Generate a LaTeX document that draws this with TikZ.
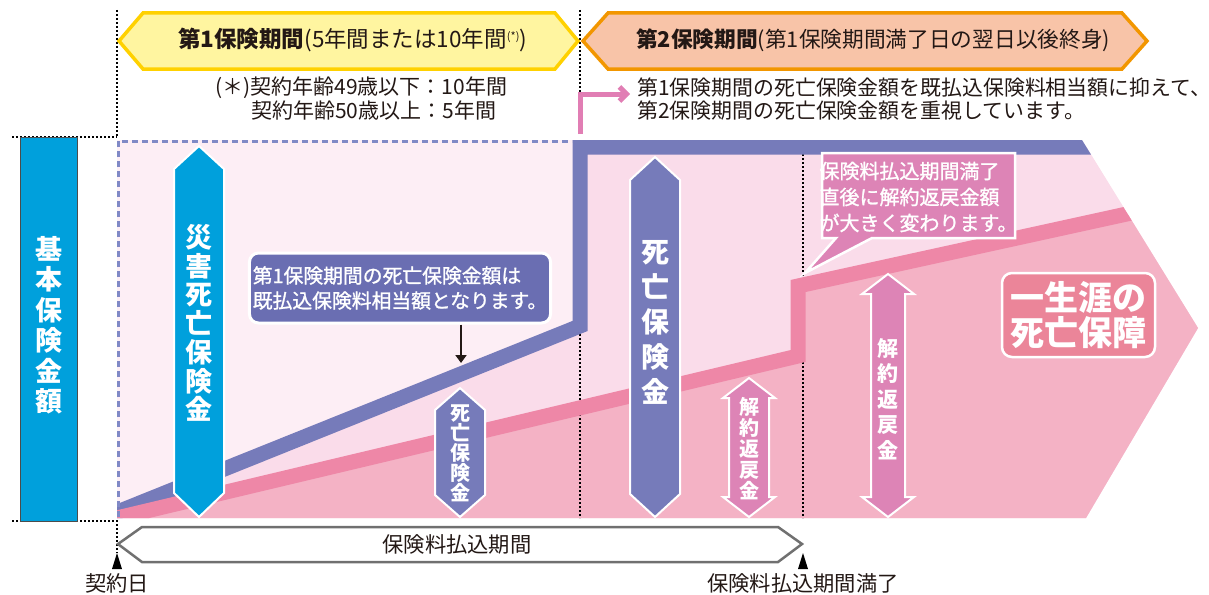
\documentclass[tikz,border=0pt]{standalone}
\usepackage{fontspec}
\setmainfont{Noto Sans CJK JP}
\newfontfamily\jpmed{Noto Sans CJK JP}[FakeBold=1.2]
\usetikzlibrary{arrows.meta,calc}
\definecolor{cyanb}{HTML}{00A0DC}
\definecolor{blueline}{HTML}{767BBA}
\definecolor{calloutblue}{HTML}{6A6EB2}
\definecolor{pale}{HTML}{FDEEF5}
\definecolor{lpink}{HTML}{FADCEA}
\definecolor{mpink}{HTML}{F4B2C5}
\definecolor{pinkline}{HTML}{EE87A7}
\definecolor{arrowpink}{HTML}{DD84B6}
\definecolor{lifepink}{HTML}{EB8599}
\definecolor{yelfill}{HTML}{FFF5A0}
\definecolor{yeldraw}{HTML}{FFD100}
\definecolor{orfill}{HTML}{F8C4A8}
\definecolor{ordraw}{HTML}{F29600}
\definecolor{connpink}{HTML}{E17EB4}
\definecolor{dashb}{HTML}{8089C6}
\definecolor{graybox}{HTML}{707070}
\definecolor{txt}{HTML}{231815}
\newcommand\fsHa{\fontsize{22.5}{24}\selectfont}
\newcommand\fsHb{\fontsize{21.7}{24}\selectfont}
\newcommand\fsN{\fontsize{21}{24}\selectfont}
\newcommand\fsR{\fontsize{20.9}{24}\selectfont}
\newcommand\fsB{\fontsize{21.3}{24}\selectfont}
\begin{document}
\begin{tikzpicture}[x=1pt,y=-1pt,
  guide/.style={black, line width=1.6pt, dash pattern=on 1.6pt off 2.4pt},
  blueband/.style={draw=blueline, line width=15pt, line join=miter},
  pinkband/.style={draw=pinkline, line width=15pt, line join=miter},
  dashborder/.style={draw=dashb, line width=3pt, dash pattern=on 6pt off 4pt},
  hexarrow/.style={draw=white, line width=2pt, line join=miter},
  vlab/.style={align=center, text=white, inner sep=0pt},
  plain/.style={inner sep=0pt, text=txt},
  pinkconn/.style={draw=connpink, line width=5pt, -{Straight Barb[length=7pt,width=14pt]}},
]
\useasboundingbox (0,0) rectangle (1209,594);

% guides outside the chart
\draw[guide] (117,10) -- (117,137);
\draw[guide] (117,520) -- (117,553);
\draw[guide] (12,137) -- (117,137);
\draw[guide] (12,521) -- (117,521);
\draw[guide] (580,10) -- (580,133);

% header banners
\path[fill=yelfill, draw=yeldraw, line width=3.5pt] (119,41) -- (143,13) -- (555,13) -- (578,41) -- (555,69) -- (143,69) -- cycle;
\path[fill=orfill, draw=ordraw, line width=3.5pt] (583,41) -- (608,13) -- (1122,13) -- (1147,41) -- (1122,69) -- (608,69) -- cycle;
\node[plain, anchor=west, font=\fsHa] (p1) at (178,40) {\bfseries 第1保険期間\mdseries(5年間または10年間\raisebox{.55ex}{\fontsize{11}{11}\selectfont(*)})};
\node[plain, anchor=west, font=\fsHb] (p2) at (636,40) {\bfseries 第2保険期間\mdseries(第1保険期間満了日の翌日以後終身)};

% notes
\node[plain, anchor=west, font=\fsN] (fn1) at (215,88) {(＊)契約年齢49歳以下：10年間};
\node[plain, anchor=west, font=\fsN] (fn2) at (251,111) {契約年齢50歳以上：5年間};
\node[plain, anchor=west, font=\fsR] (note1) at (637,88) {第1保険期間の死亡保険金額を既払込保険料相当額に抑えて、};
\node[plain, anchor=west, font=\fsR] (note2) at (637,111) {第2保険期間の死亡保険金額を重視しています。};
\coordinate (cstart) at (580,134);
\coordinate (cend) at (630,94);
\draw[pinkconn] (cstart) |- (cend);

% left bar
\node[fill=cyanb, draw=black!70, line width=0.6pt, minimum width=57pt, minimum height=384pt, inner sep=0pt] (kbar) at (48.5,329) {};
\node[vlab, font=\bfseries\fontsize{27}{30.5}\selectfont] (klab) at (49,325) {基\\本\\保\\険\\金\\額};

% chart
\begin{scope}
\clip (117,140) -- (1082,140) -- (1198,328) -- (1086,518) -- (117,518) -- cycle;
\fill[pale] (100,130) rectangle (1250,530);
\fill[lpink] (100,519) -- (580,326) -- (580,147) -- (1250,147) -- (1250,530) -- (100,530) -- cycle;
\fill[mpink] (100,522) -- (798,356) -- (798,286) -- (1250,187) -- (1250,530) -- (100,530) -- cycle;
\draw[guide] (580,330) -- (580,518);
\draw[guide] (803,150) -- (803,518);
\draw[blueband] (100,519) -- (580,326) -- (580,147) -- (1250,147);
\draw[pinkband] (100,522) -- (798,356) -- (798,286) -- (1250,187);
\end{scope}
\draw[dashborder] (118,517) -- (118,141) -- (572,141);

% vertical arrows
\path[hexarrow, fill=cyanb] (199,146) -- (224,169) -- (224,493) -- (199,517) -- (174,493) -- (174,169) -- cycle;
\node[vlab, font=\bfseries\fontsize{27}{28.7}\selectfont] (saigai) at (199,323) {災\\害\\死\\亡\\保\\険\\金};

\path[hexarrow, fill=blueline] (460,388) -- (485,410) -- (485,495) -- (460,517) -- (435,495) -- (435,410) -- cycle;
\node[vlab, font=\bfseries\fontsize{20}{20}\selectfont] (shibo1) at (460,453) {死\\亡\\保\\険\\金};

\path[hexarrow, fill=blueline] (655,157) -- (680,180) -- (680,494) -- (655,517) -- (630,494) -- (630,180) -- cycle;
\node[vlab, font=\bfseries\fontsize{28}{35}\selectfont] (shibo2) at (655,322) {死\\亡\\保\\険\\金};

\path[hexarrow, fill=arrowpink] (749,378) -- (775,398) -- (769,398) -- (769,497) -- (775,497) -- (749,517) -- (723,497) -- (729,497) -- (729,398) -- (723,398) -- cycle;
\node[vlab, font=\bfseries\fontsize{20}{21}\selectfont] (kaiyaku1) at (749,449) {解\\約\\返\\戻\\金};

\path[hexarrow, fill=arrowpink] (888,274) -- (914,294) -- (905,294) -- (905,497) -- (914,497) -- (888,517) -- (862,497) -- (871,497) -- (871,294) -- (862,294) -- cycle;
\node[vlab, font=\bfseries\fontsize{21}{25.6}\selectfont] (kaiyaku2) at (888,399) {解\\約\\返\\戻\\金};

% callouts
\node[draw=white, line width=3pt, fill=calloutblue, rounded corners=9pt, minimum width=294pt, minimum height=70pt, align=left, text=white, font=\jpmed\fontsize{19.8}{25}\selectfont] (bcall) at (400,288) {第1保険期間の死亡保険金額は\\既払込保険料相当額となります。};
\coordinate (ptr) at (461,363);
\draw[txt, line width=2pt, -{Triangle[length=8pt,width=11pt]}] (ptr |- bcall.south) -- (ptr);

\path[fill=arrowpink, draw=white, line width=2.5pt, line join=miter] (822,153) -- (1015,153) -- (1015,238) -- (872,238) -- (805,273) -- (836,238) -- (822,238) -- cycle;
\node[align=left, text=white, inner sep=0pt, font=\jpmed\fontsize{20}{26}\selectfont] (pcall) at (918.5,197) {保険料払込期間満了\\直後に解約返戻金額\\が大きく変わります。};

\node[fill=lifepink, draw=white, line width=2.5pt, rounded corners=10pt, minimum width=153pt, minimum height=84pt, inner sep=0pt, text=white, align=center, font=\bfseries\fontsize{34}{35}\selectfont] (life) at (1078.5,315) {一生涯の\\死亡保障};

% bottom
\draw[graybox, line width=2.5pt, fill=white] (118,544) -- (142,527) -- (778,527) -- (802,544) -- (778,562) -- (142,562) -- cycle;
\node[plain, font=\fsB] (harai) at (457,544) {保険料払込期間};
\fill[black] (117,553) -- (122,569) -- (112,569) -- cycle;
\fill[black] (803,553) -- (808,569) -- (798,569) -- cycle;
\node[plain, font=\fsB] (d0) at (117,583) {契約日};
\node[plain, font=\fsB] (d1) at (803,583) {保険料払込期間満了};
\end{tikzpicture}
\end{document}
